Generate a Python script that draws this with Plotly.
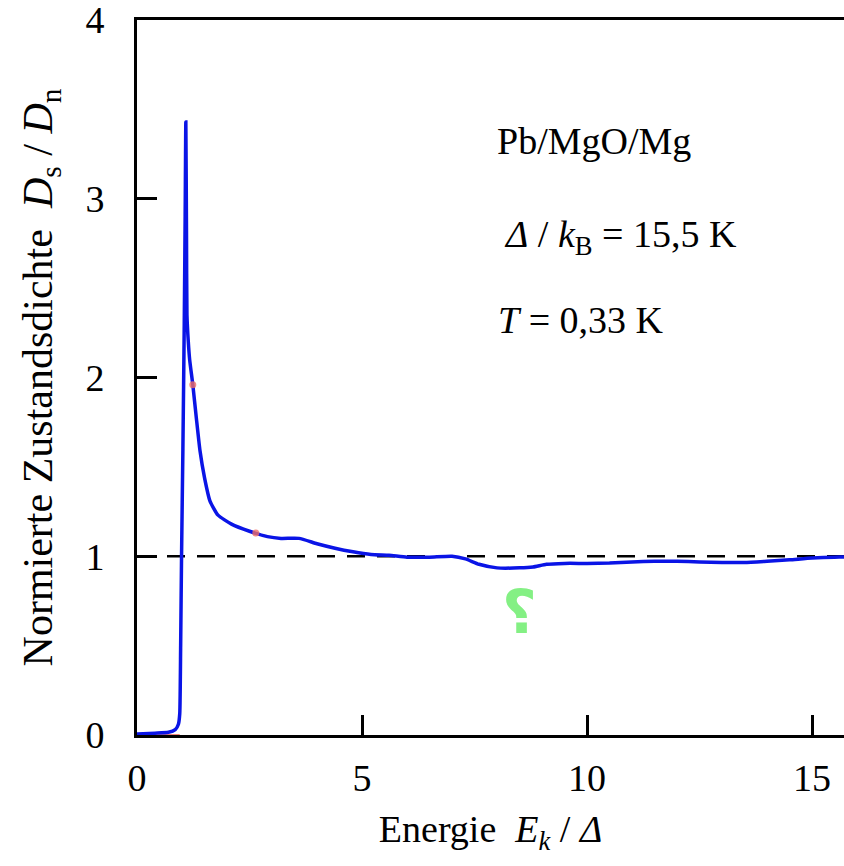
import plotly.graph_objects as go

# Normalized density of states D_s/D_n vs E_k/Δ (Pb/MgO/Mg)
energy = [0.0, 0.4, 0.7, 0.85, 0.92, 0.95, 0.97, 0.99, 1.02, 1.05, 1.07, 1.085,
          1.10, 1.11, 1.14, 1.17, 1.24, 1.32, 1.40, 1.50, 1.62, 1.80, 2.10, 2.50, 2.90,
          3.20, 3.60, 4.00, 4.40, 4.80, 5.20, 5.60, 6.00, 6.50, 7.00, 7.30, 7.60,
          8.00, 8.50, 8.80, 9.10, 9.50, 10.0, 10.5, 11.0, 11.5, 12.0, 12.5, 13.0,
          13.5, 14.0, 14.5, 15.0, 15.5, 15.8]
dos = [0.005, 0.01, 0.015, 0.03, 0.06, 0.12, 0.5, 1.0, 1.6, 2.3, 2.9, 3.43,
       2.8, 2.35, 2.2, 2.1, 1.96, 1.77, 1.59, 1.44, 1.31, 1.23, 1.18, 1.14, 1.11,
       1.10, 1.10, 1.07, 1.045, 1.025, 1.01, 1.005, 0.995, 0.995, 1.0, 0.985, 0.955,
       0.935, 0.935, 0.94, 0.955, 0.96, 0.96, 0.962, 0.968, 0.972, 0.972, 0.968, 0.965,
       0.965, 0.972, 0.98, 0.99, 0.995, 0.995]

normal_x = [0.0, 15.8]
normal_y = [1.0, 1.0]

# hand-drawn red marks on the scan
red_dot_x = [1.24, 2.64]
red_dot_y = [1.96, 1.13]
red_line_x = [-0.1, 0.95]
red_line_y = [-0.02, -0.02]

x_ticks = [0, 5, 10, 15]
y_ticks = [0, 1, 2, 3, 4]

FONT = "Liberation Serif"

fig = go.Figure()
fig.add_trace(go.Scatter(x=red_line_x, y=red_line_y, mode="lines",
                         line=dict(color="rgba(240,110,100,0.85)", width=9),
                         cliponaxis=False, hoverinfo="skip", showlegend=False))
fig.add_trace(go.Scatter(x=normal_x, y=normal_y, mode="lines",
                         line=dict(color="black", width=2.5, dash="18px,12px"),
                         showlegend=False))
fig.add_trace(go.Scatter(x=energy, y=dos, mode="lines",
                         line=dict(color="#0a14e6", width=3.5, shape="spline", smoothing=0.5),
                         showlegend=False))
fig.add_trace(go.Scatter(x=red_dot_x, y=red_dot_y, mode="markers",
                         marker=dict(color="rgba(240,110,100,0.8)", size=7),
                         showlegend=False))

ann_font = dict(family=FONT, size=38, color="black")
fig.add_annotation(xref="paper", yref="paper", x=0.507, y=0.831, xanchor="left", yanchor="middle",
                   text="Pb/MgO/Mg", showarrow=False, font=ann_font)
fig.add_annotation(xref="paper", yref="paper", x=0.516, y=0.696, xanchor="left", yanchor="middle",
                   text="<i>Δ</i> / <i>k</i><sub>B</sub> = 15,5 K", showarrow=False, font=ann_font)
fig.add_annotation(xref="paper", yref="paper", x=0.508, y=0.580, xanchor="left", yanchor="middle",
                   text="<i>T</i> = 0,33 K", showarrow=False, font=ann_font)
fig.add_annotation(x=8.51, y=0.69, text="<b>⸮</b>", showarrow=False,
                   font=dict(family="DejaVu Sans", size=60, color="#84f084"))

fig.update_layout(
    width=844, height=866,
    margin=dict(l=137, r=0, t=20, b=131),
    paper_bgcolor="white", plot_bgcolor="white",
    font=dict(family=FONT, color="black"),
)
fig.update_xaxes(range=[0, 15.71], tickvals=x_ticks, ticks="inside", ticklen=20, tickwidth=2.5,
                 tickcolor="black", showline=True, linewidth=3, linecolor="black", mirror=True,
                 showgrid=False, zeroline=False, tickfont=dict(family=FONT, size=38),
                 ticklabelstandoff=7, ticklabeloverflow="allow",
                 title=dict(text="Energie\u00a0\u00a0<i>E</i><sub><i>k</i></sub> / <i>Δ</i>",
                            font=dict(family=FONT, size=38), standoff=18))
fig.update_yaxes(range=[0, 4], tickvals=y_ticks, ticks="inside", ticklen=20, tickwidth=2.5,
                 tickcolor="black", showline=True, linewidth=3, linecolor="black", mirror=False,
                 showgrid=False, zeroline=False, tickfont=dict(family=FONT, size=38),
                 ticklabelstandoff=22, ticklabeloverflow="allow",
                 title=dict(text="Normierte Zustandsdichte\u00a0\u00a0<i>D</i><sub>s</sub> / <i>D</i><sub>n</sub>",
                            font=dict(family=FONT, size=42), standoff=20))

fig.write_html("out.html", config={"displayModeBar": False},
               post_script="document.body.style.margin='0';document.body.style.overflow='hidden';")
